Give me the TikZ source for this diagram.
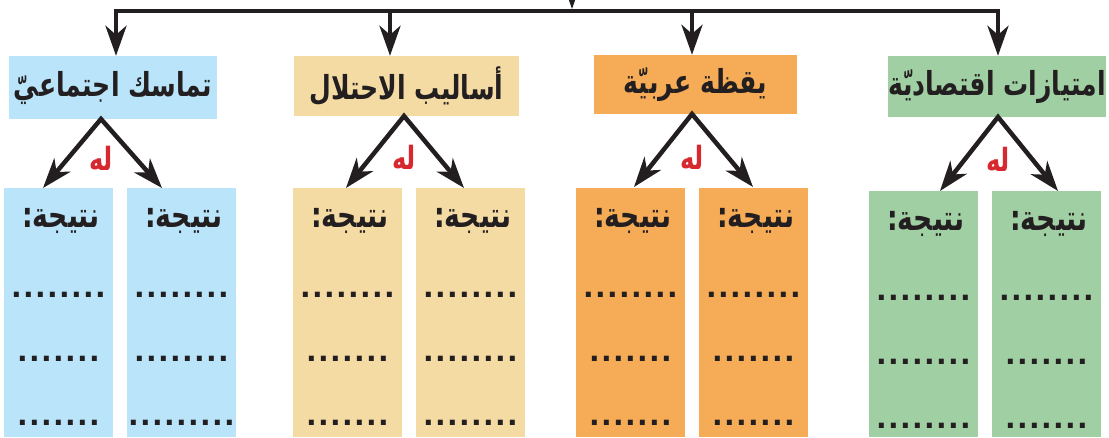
\documentclass[tikz,border=0pt]{standalone}
\usepackage{fontspec}
\usetikzlibrary{arrows.meta}
\TeXXeTstate=1
\newfontfamily\arb[Script=Arabic, FakeStretch=0.76]{DejaVu Sans}
\newfontfamily\dotfont{DejaVu Sans}
\definecolor{cblue}{HTML}{B9E4F9}
\definecolor{ctan}{HTML}{F4DBA4}
\definecolor{corange}{HTML}{F6AC56}
\definecolor{cgreen}{HTML}{9FCFA2}
\definecolor{cred}{HTML}{D7282F}
\definecolor{ink}{HTML}{231F20}
\newcommand\artxt[1]{{\arb\bfseries\beginR #1\endR}}
\newcommand\dotrow[1]{\foreach \i in {1,...,#1}{\makebox[12pt]{.}}}
\tikzset{
  hdr/.style={inner sep=0pt, text=ink, font=\fontsize{33}{35}\selectfont},
  resbox/.style={inner sep=0pt, minimum width=109pt, minimum height=249pt},
  ttl/.style={inner sep=0pt, text=ink, font=\fontsize{35}{37}\selectfont},
  dotsrow/.style={inner sep=0pt, anchor=base, text=ink, font=\dotfont\bfseries\fontsize{28}{29}\selectfont},
  lbl/.style={inner sep=0pt, text=cred, font=\fontsize{32}{34}\selectfont},
  arr/.style={draw=ink, line width=4.5pt, line join=miter, -{Stealth[length=30pt,width=21pt,inset=9pt]}},
  fork/.style={draw=ink, line width=4.5pt, line join=miter, {Stealth[length=30pt,width=21pt,inset=9pt]}-{Stealth[length=30pt,width=21pt,inset=9pt]}},
}
\begin{document}
\begin{tikzpicture}[x=1pt,y=-1pt]
\useasboundingbox (0,0) rectangle (1109,437);
\clip (0,0) rectangle (1109,437);

% headers
\node[hdr, fill=cblue, minimum width=208pt, minimum height=63pt] (hA) at (113,87.5) {\artxt{تماسك اجتماعيّ}};
\node[hdr, fill=ctan, minimum width=225pt, minimum height=60pt] (hB) at (406.5,86) {\artxt{أساليب الاحتلال}};
\node[hdr, fill=corange, minimum width=203pt, minimum height=59pt] (hC) at (695.5,84.5) {\artxt{يقظة عربيّة}};
\node[hdr, fill=cgreen, minimum width=214pt, minimum height=61pt] (hD) at (997,86.5) {\artxt{امتيازات اقتصاديّة}};

% top connector
\coordinate (src) at (572,-40);
\coordinate (j) at (572,9);
\coordinate (t1) at (116,11);
\coordinate (t2) at (390,11);
\coordinate (t3) at (692,11);
\coordinate (t4) at (998,11);
\draw[arr] (src) -- (j);
\draw[fork] (hA.north -| t1) -- (t1) -- (t4) -- (hD.north -| t4);
\draw[arr] (t2) -- (hB.north -| t2);
\draw[arr] (t3) -- (hC.north -| t3);

% result boxes
\node[resbox, fill=cblue] (rA1) at (58.5,312.5) {};
\node[resbox, fill=cblue] (rA2) at (181.5,312.5) {};
\node[resbox, fill=ctan] (rB1) at (347.5,312.5) {};
\node[resbox, fill=ctan] (rB2) at (470.5,312.5) {};
\node[resbox, fill=corange] (rC1) at (630.5,312) {};
\node[resbox, fill=corange] (rC2) at (753.5,312) {};
\node[resbox, fill=cgreen, minimum height=246pt] (rD1) at (923.5,314) {};
\node[resbox, fill=cgreen, minimum height=246pt] (rD2) at (1046.5,314) {};

% forks
\coordinate (pA) at (101,119);
\coordinate (pB) at (404,116);
\coordinate (pC) at (692,114);
\coordinate (pD) at (998,117);
\coordinate (kA1) at (43,188);
\coordinate (kA2) at (162,188);
\coordinate (kB1) at (346,188);
\coordinate (kB2) at (464,188);
\coordinate (kC1) at (634,187);
\coordinate (kC2) at (753,187);
\coordinate (kD1) at (940,191);
\coordinate (kD2) at (1058,191);
\draw[fork] (kA1) -- (pA) -- (kA2);
\draw[fork] (kB1) -- (pB) -- (kB2);
\draw[fork] (kC1) -- (pC) -- (kC2);
\draw[fork] (kD1) -- (pD) -- (kD2);

% labels
\node[lbl] (lA) at (101,158) {\artxt{له}};
\node[lbl] (lB) at (404,157) {\artxt{له}};
\node[lbl] (lC) at (692,157) {\artxt{له}};
\node[lbl] (lD) at (998,159) {\artxt{له}};

% titles
\node[ttl] (tA1) at (61,221) {\artxt{نتيجة:}};
\node[ttl] (tA2) at (184,221) {\artxt{نتيجة:}};
\node[ttl] (tB1) at (350,221) {\artxt{نتيجة:}};
\node[ttl] (tB2) at (473,221) {\artxt{نتيجة:}};
\node[ttl] (tC1) at (633,221) {\artxt{نتيجة:}};
\node[ttl] (tC2) at (756,221) {\artxt{نتيجة:}};
\node[ttl] (tD1) at (926,224) {\artxt{نتيجة:}};
\node[ttl] (tD2) at (1049,224) {\artxt{نتيجة:}};

% dotted rows
\node[dotsrow] (dA1a) at (58.5,297) {\dotrow{8}};
\node[dotsrow] (dA1b) at (58.5,361) {\dotrow{7}};
\node[dotsrow] (dA1c) at (58.5,425) {\dotrow{7}};
\node[dotsrow] (dA2a) at (181.5,297) {\dotrow{8}};
\node[dotsrow] (dA2b) at (181.5,361) {\dotrow{8}};
\node[dotsrow] (dA2c) at (181.5,425) {\dotrow{9}};
\node[dotsrow] (dB1a) at (347.5,297) {\dotrow{8}};
\node[dotsrow] (dB1b) at (347.5,361) {\dotrow{7}};
\node[dotsrow] (dB1c) at (347.5,425) {\dotrow{7}};
\node[dotsrow] (dB2a) at (470.5,297) {\dotrow{8}};
\node[dotsrow] (dB2b) at (470.5,361) {\dotrow{8}};
\node[dotsrow] (dB2c) at (470.5,425) {\dotrow{8}};
\node[dotsrow] (dC1a) at (630.5,297) {\dotrow{8}};
\node[dotsrow] (dC1b) at (630.5,361) {\dotrow{7}};
\node[dotsrow] (dC1c) at (630.5,425) {\dotrow{7}};
\node[dotsrow] (dC2a) at (753.5,297) {\dotrow{8}};
\node[dotsrow] (dC2b) at (753.5,361) {\dotrow{7}};
\node[dotsrow] (dC2c) at (753.5,425) {\dotrow{7}};
\node[dotsrow] (dD1a) at (923.5,300) {\dotrow{8}};
\node[dotsrow] (dD1b) at (923.5,364) {\dotrow{8}};
\node[dotsrow] (dD1c) at (923.5,428) {\dotrow{8}};
\node[dotsrow] (dD2a) at (1046.5,300) {\dotrow{8}};
\node[dotsrow] (dD2b) at (1046.5,364) {\dotrow{7}};
\node[dotsrow] (dD2c) at (1046.5,428) {\dotrow{7}};
\end{tikzpicture}
\end{document}
